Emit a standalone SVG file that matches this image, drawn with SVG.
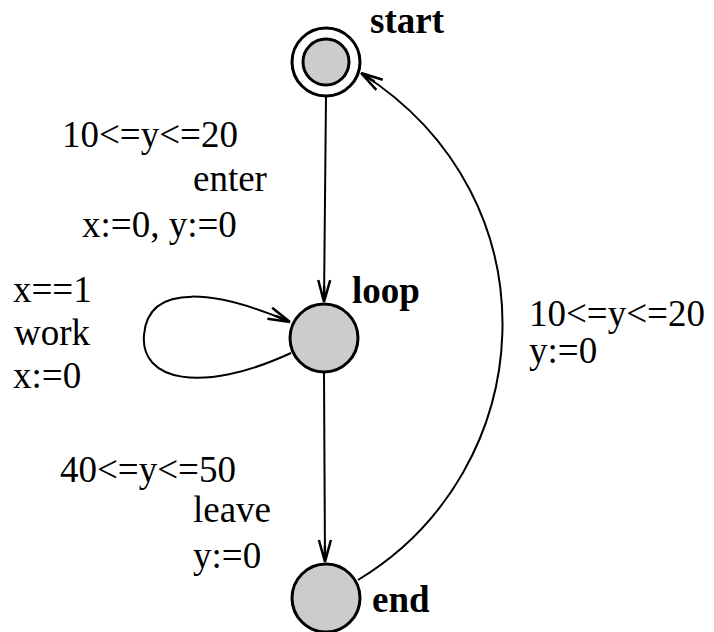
<svg xmlns="http://www.w3.org/2000/svg" width="714" height="632" viewBox="0 0 714 632">
<defs>
<style>
.node{fill:#cccccc;stroke:#000;stroke-width:3}
.ring{fill:none;stroke:#000;stroke-width:3}
.edge{fill:none;stroke:#000;stroke-width:2}
.lbl{font-family:"Liberation Serif","Times New Roman",serif;font-size:37px;fill:#000}
.name{font-family:"Liberation Serif","Times New Roman",serif;font-size:37px;font-weight:bold;fill:#000}
</style>
<marker id="arr" markerUnits="userSpaceOnUse" markerWidth="30" markerHeight="20" viewBox="-24 -10 26 20" refX="0" refY="0" orient="auto">
<path d="M0,0 L-22,-6 M0,0 L-22,6 M0,0 L-16,0" fill="none" stroke="#000" stroke-width="2.5"/>
</marker>
</defs>
<rect width="714" height="632" fill="#fff"/>
<g id="connectors">
<path class="edge" d="M326 97 L324 302" marker-end="url(#arr)"/>
<path class="edge" d="M324 373 L325 562" marker-end="url(#arr)"/>
<path class="edge" d="M358 580 C540 470 560 200 361 73" marker-end="url(#arr)"/>
<path class="edge" d="M291 353 C200 395 140 380 144 335 C148 280 220 292 290 322" marker-end="url(#arr)"/>
</g>
<g id="start">
<circle class="node" cx="326" cy="62" r="23"/>
<circle class="ring" cx="326" cy="62" r="34"/>
<text class="name" x="370" y="33">start</text>
</g>
<g id="loop">
<circle class="node" cx="324" cy="338" r="34"/>
<text class="name" x="352" y="303">loop</text>
</g>
<g id="end">
<circle class="node" cx="326" cy="598" r="34"/>
<text class="name" x="372" y="612">end</text>
</g>
<g id="labels">
<text class="lbl" x="62" y="147">10&lt;=y&lt;=20</text>
<text class="lbl" x="193" y="191">enter</text>
<text class="lbl" x="82" y="237">x:=0, y:=0</text>
<text class="lbl" x="13" y="302">x==1</text>
<text class="lbl" x="14" y="345">work</text>
<text class="lbl" x="13" y="388">x:=0</text>
<text class="lbl" x="529" y="326">10&lt;=y&lt;=20</text>
<text class="lbl" x="529" y="363">y:=0</text>
<text class="lbl" x="60" y="482">40&lt;=y&lt;=50</text>
<text class="lbl" x="193" y="522">leave</text>
<text class="lbl" x="193" y="568">y:=0</text>
</g>
</svg>
